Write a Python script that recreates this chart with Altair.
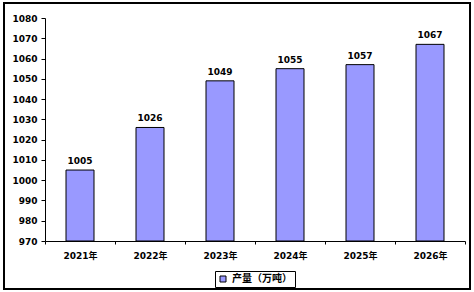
import altair as alt
import pandas as pd

years = ["2021年", "2022年", "2023年", "2024年", "2025年", "2026年"]
values = [1005, 1026, 1049, 1055, 1057, 1067]
series = ["产量（万吨）"] * 6
y_ticks = [970, 980, 990, 1000, 1010, 1020, 1030, 1040, 1050, 1060, 1070, 1080]

df = pd.DataFrame({"year": years, "value": values, "series": series})

FONT = "DejaVu Sans, Noto Sans CJK SC"

x = alt.X("year:N", sort=years, title=None,
          scale=alt.Scale(paddingInner=0, paddingOuter=0),
          axis=alt.Axis(labelAngle=0, tickBand="extent", tickSize=3, labelPadding=7,
                        domainColor="black", tickColor="black", labelFont=FONT,
                        labelFontWeight="bold", labelFontSize=9, labelColor="black"))
y = alt.Y("value:Q", title=None,
          scale=alt.Scale(domain=[970, 1080], nice=False, zero=False),
          axis=alt.Axis(values=y_ticks, grid=False, tickSize=4, labelPadding=4, format="d",
                        labelOverlap=False, labelFlush=False,
                        domainColor="black", tickColor="black", labelFont=FONT,
                        labelFontWeight="bold", labelFontSize=9, labelColor="black"))

bars = alt.Chart(df).mark_bar(size=28, stroke="black", strokeWidth=1).encode(
    x=x, y=y, y2=alt.datum(970),
    color=alt.Color("series:N", scale=alt.Scale(range=["#9999FF"]),
                    legend=alt.Legend(title=None, orient="none", legendX=170, legendY=253,
                                      symbolType="square", symbolSize=36,
                                      symbolFillColor="#9999FF",
                                      symbolStrokeColor="black", symbolStrokeWidth=1,
                                      labelFont=FONT, labelFontWeight="bold", labelFontSize=10,
                                      labelColor="black", strokeColor="black", padding=3,
                                      labelOffset=4))
)

labels = alt.Chart(df).mark_text(baseline="bottom", dy=-4, font=FONT, fontWeight="bold",
                                 fontSize=9, color="black").encode(
    x=x, y=y, text="value:Q")

frame = alt.Chart(df).mark_rect(fill=None, stroke="black", strokeWidth=1.5, clip=False).encode(
    x=alt.value(-41), x2=alt.value(425), y=alt.value(-15), y2=alt.value(271))

chart = alt.layer(bars, labels, frame).properties(
    width=420, height=223,
    padding={"left": 45, "top": 18, "right": 9, "bottom": 51},
    autosize=alt.AutoSizeParams(type="none"),
    background="white",
).configure_view(stroke=None)

chart.save("out.html", embed_options={"renderer": "svg", "actions": False})
